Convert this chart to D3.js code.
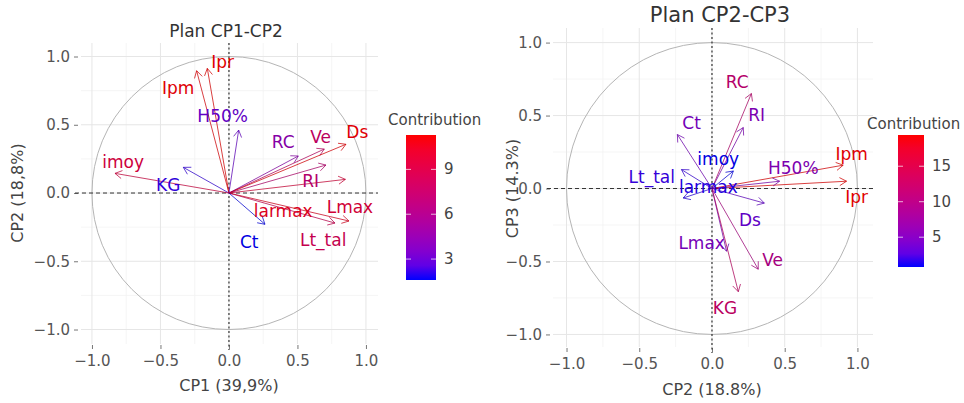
<!DOCTYPE html>
<html>
<head>
<meta charset="utf-8">
<script src="https://cdn.jsdelivr.net/npm/d3@7"></script>
<style>
  body { margin: 0; background: #fff; }
  text { font-family: "DejaVu Sans", sans-serif; }
</style>
</head>
<body>
<svg id="chart" width="964" height="403"></svg>
<script>
// variables shown on both planes
const variables = ["Ipr", "Ipm", "H50%", "RC", "Ve", "Ds", "RI", "larmax", "Lmax", "Lt_tal", "Ct", "KG", "imoy"];

// plan CP1-CP2
const leftCP1 = [-0.158, -0.236, 0.071, 0.506, 0.696, 0.854, 0.708, 0.876, 0.85, 0.774, 0.263, -0.333, -0.832];
const leftCP2 = [0.913, 0.896, 0.461, 0.271, 0.322, 0.357, 0.205, -0.205, 0.10, -0.22, -0.229, 0.188, 0.144];
const leftContrib = [11.3, 11.2, 2.9, 4.3, 7.7, 11.2, 7.1, 10.6, 9.6, 8.5, 1.6, 1.9, 9.3];
const leftLabelX = [-0.046, -0.37, -0.046, 0.396, 0.669, 0.937, 0.596, 0.396, 0.883, 0.688, 0.148, -0.443, -0.772];
const leftLabelY = [0.962, 0.767, 0.566, 0.376, 0.412, 0.449, 0.09, -0.132, -0.1, -0.344, -0.357, 0.059, 0.229];

// plan CP2-CP3
const rightCP2 = [0.925, 0.902, 0.465, 0.271, 0.318, 0.36, 0.215, -0.198, 0.1, -0.21, -0.238, 0.181, 0.147];
const rightCP3 = [0.05, 0.16, 0.05, 0.651, -0.553, -0.1, 0.418, -0.065, -0.43, 0.13, 0.37, -0.707, 0.12];
const rightContrib = [19.4, 19.3, 5.1, 11.5, 9.5, 3.2, 5.0, 1.1, 4.5, 1.5, 4.4, 12.4, 0.8];
const rightLabelX = [0.994, 0.96, 0.559, 0.174, 0.417, 0.261, 0.307, -0.025, -0.071, -0.414, -0.14, 0.089, 0.043];
const rightLabelY = [-0.06, 0.236, 0.138, 0.732, -0.49, -0.216, 0.503, 0.008, -0.371, 0.077, 0.447, -0.82, 0.2];

const axisTicks = [-1, -0.5, 0, 0.5, 1];
const minorTicks = [-0.75, -0.25, 0.25, 0.75];
const leftLegendTicks = [3, 6, 9];
const rightLegendTicks = [5, 10, 15];

const svg = d3.select("#chart");

function drawPanel(o) {
  const x = d3.scaleLinear().domain(o.xDomain).range(o.xRange);
  const y = d3.scaleLinear().domain(o.yDomain).range(o.yRange);
  const g = svg.append("g");

  // grid
  g.selectAll(".minx").data(minorTicks).enter().append("line")
    .attr("x1", d => x(d)).attr("x2", d => x(d))
    .attr("y1", o.yRange[0]).attr("y2", o.yRange[1])
    .attr("stroke", "#f3f3f3").attr("stroke-width", 0.8);
  g.selectAll(".miny").data(minorTicks).enter().append("line")
    .attr("y1", d => y(d)).attr("y2", d => y(d))
    .attr("x1", o.xRange[0]).attr("x2", o.xRange[1])
    .attr("stroke", "#f3f3f3").attr("stroke-width", 0.8);
  g.selectAll(".majx").data(axisTicks).enter().append("line")
    .attr("x1", d => x(d)).attr("x2", d => x(d))
    .attr("y1", o.yRange[0]).attr("y2", o.yRange[1])
    .attr("stroke", "#e6e6e6").attr("stroke-width", 1);
  g.selectAll(".majy").data(axisTicks).enter().append("line")
    .attr("y1", d => y(d)).attr("y2", d => y(d))
    .attr("x1", o.xRange[0]).attr("x2", o.xRange[1])
    .attr("stroke", "#e6e6e6").attr("stroke-width", 1);

  // axes ticks + labels
  const yAxis = d3.axisLeft(y).tickValues(axisTicks).tickFormat(d3.format(".1f")).tickSize(4).tickPadding(4);
  const xAxis = d3.axisBottom(x).tickValues(axisTicks).tickFormat(d3.format(".1f")).tickSize(4).tickPadding(6);
  const ya = g.append("g").attr("transform", `translate(${o.xRange[0] - 3},0)`).call(yAxis);
  const xa = g.append("g").attr("transform", `translate(0,${o.yRange[0] + 1})`).call(xAxis);
  [ya, xa].forEach(a => {
    a.select(".domain").remove();
    a.selectAll("line").attr("stroke", "#777");
    a.selectAll("text").attr("fill", "#555").style("font-size", "15px")
      .style("font-family", '"DejaVu Sans", sans-serif');
  });

  // correlation circle
  g.append("ellipse")
    .attr("cx", x(0)).attr("cy", y(0))
    .attr("rx", x(1) - x(0)).attr("ry", y(0) - y(1))
    .attr("fill", "none").attr("stroke", "#b5b5b5").attr("stroke-width", 1);

  // dashed axes at 0
  g.append("line").attr("x1", o.xRange[0] - 6).attr("x2", o.xRange[1])
    .attr("y1", y(0)).attr("y2", y(0))
    .attr("stroke", "#333").attr("stroke-dasharray", "4,3");
  g.append("line").attr("x1", x(0)).attr("x2", x(0))
    .attr("y1", o.yRange[1]).attr("y2", o.yRange[0] + 6)
    .attr("stroke", "#333").attr("stroke-dasharray", "2,2.5").attr("stroke-width", 1.2);

  const color = d3.scaleLinear().domain(d3.extent(o.contrib))
    .range(["#0000ff", "#ff0000"]).interpolate(d3.interpolateLab);
  const muted = (c, k) => d3.color(color(c)).darker(k).formatHex();

  const data = variables.map((v, i) => ({
    name: v, cx: o.cx[i], cy: o.cy[i], c: o.contrib[i], lx: o.lx[i], ly: o.ly[i]
  }));

  // arrows
  const arr = g.selectAll(".arrow").data(data).enter().append("g");
  arr.append("line")
    .attr("x1", x(0)).attr("y1", y(0))
    .attr("x2", d => x(d.cx)).attr("y2", d => y(d.cy))
    .attr("stroke", d => muted(d.c, 0.6)).attr("stroke-width", 1).attr("opacity", 0.75);
  arr.append("path")
    .attr("d", d => {
      const x2 = x(d.cx), y2 = y(d.cy);
      const a = Math.atan2(y2 - y(0), x2 - x(0));
      const len = 8, w = Math.PI / 6;
      return `M${x2 - len * Math.cos(a - w)},${y2 - len * Math.sin(a - w)}L${x2},${y2}L${x2 - len * Math.cos(a + w)},${y2 - len * Math.sin(a + w)}`;
    })
    .attr("fill", "none").attr("stroke", d => muted(d.c, 0.6)).attr("stroke-width", 1).attr("opacity", 0.75);

  // labels
  g.selectAll(".lab").data(data).enter().append("text")
    .attr("x", d => x(d.lx)).attr("y", d => y(d.ly))
    .attr("text-anchor", "middle").attr("dominant-baseline", "central")
    .attr("fill", d => muted(d.c, 0.35)).style("font-size", "17px")
    .text(d => d.name);

  // titles
  g.append("text").attr("x", o.titleX).attr("y", o.titleY)
    .attr("text-anchor", "middle").attr("dominant-baseline", "central")
    .attr("fill", "#333").style("font-size", o.titleSize + "px").text(o.title);
  g.append("text").attr("x", x(0)).attr("y", o.xTitleY)
    .attr("text-anchor", "middle").attr("dominant-baseline", "central")
    .attr("fill", "#444").style("font-size", "16px").text(o.xTitle);
  g.append("text")
    .attr("transform", `translate(${o.yTitleX},${y(0)}) rotate(-90)`)
    .attr("text-anchor", "middle").attr("dominant-baseline", "central")
    .attr("fill", "#444").style("font-size", "16px").text(o.yTitle);

  // legend colour bar
  const ext = d3.extent(o.contrib);
  const ly = d3.scaleLinear().domain(ext).range([o.barY[1], o.barY[0]]);
  const gid = "grad" + o.id;
  const grad = svg.append("defs").append("linearGradient").attr("id", gid)
    .attr("x1", 0).attr("y1", 1).attr("x2", 0).attr("y2", 0);
  d3.range(0, 1.0001, 0.1).forEach(t => {
    grad.append("stop").attr("offset", t)
      .attr("stop-color", color(ext[0] + t * (ext[1] - ext[0])));
  });
  g.append("rect").attr("x", o.barX[0]).attr("y", o.barY[0])
    .attr("width", o.barX[1] - o.barX[0]).attr("height", o.barY[1] - o.barY[0])
    .attr("fill", `url(#${gid})`);
  o.legendTicks.forEach(t => {
    g.append("line").attr("x1", o.barX[0]).attr("x2", o.barX[0] + 5)
      .attr("y1", ly(t)).attr("y2", ly(t)).attr("stroke", "#fff").attr("opacity", 0.7);
    g.append("line").attr("x1", o.barX[1] - 5).attr("x2", o.barX[1])
      .attr("y1", ly(t)).attr("y2", ly(t)).attr("stroke", "#fff").attr("opacity", 0.7);
    g.append("text").attr("x", o.barX[1] + 8).attr("y", ly(t))
      .attr("dominant-baseline", "central").attr("fill", "#444")
      .style("font-size", "15px").text(t);
  });
  g.append("text").attr("x", o.legendTitleX).attr("y", o.legendTitleY)
    .attr("dominant-baseline", "central").attr("fill", "#444")
    .style("font-size", "15px").text("Contribution");
}

drawPanel({
  id: "L",
  xDomain: [-1.08, 1.088], xRange: [81, 378],
  yDomain: [-1.106, 1.099], yRange: [344, 43],
  cx: leftCP1, cy: leftCP2, contrib: leftContrib, lx: leftLabelX, ly: leftLabelY,
  title: "Plan CP1-CP2", titleX: 226, titleY: 31, titleSize: 17,
  xTitle: "CP1 (39,9%)", xTitleY: 385, yTitle: "CP2 (18,8%)", yTitleX: 17,
  barX: [406, 436], barY: [135, 280], legendTicks: leftLegendTicks,
  legendTitleX: 388, legendTitleY: 120
});

drawPanel({
  id: "R",
  xDomain: [-1.093, 1.107], xRange: [553, 873],
  yDomain: [-1.086, 1.1], yRange: [347, 28],
  cx: rightCP2, cy: rightCP3, contrib: rightContrib, lx: rightLabelX, ly: rightLabelY,
  title: "Plan CP2-CP3", titleX: 720, titleY: 15, titleSize: 21,
  xTitle: "CP2 (18.8%)", xTitleY: 389, yTitle: "CP3 (14.3%)", yTitleX: 512,
  barX: [898, 924], barY: [135, 267], legendTicks: rightLegendTicks,
  legendTitleX: 867, legendTitleY: 124
});
</script>
</body>
</html>
